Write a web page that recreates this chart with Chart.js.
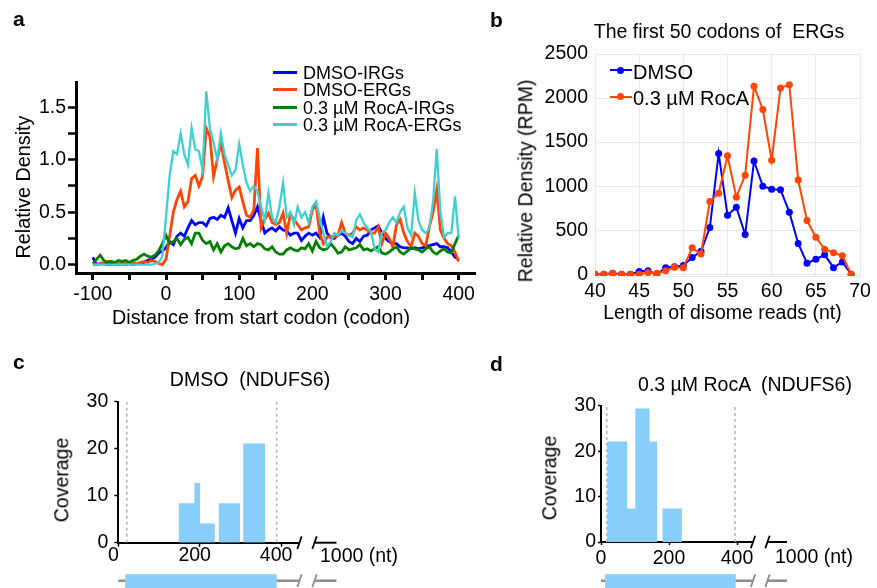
<!DOCTYPE html>
<html>
<head>
<meta charset="utf-8">
<script src="https://cdn.jsdelivr.net/npm/chart.js@4.4.1/dist/chart.umd.min.js"></script>
<style>
  html, body { margin: 0; padding: 0; background: #fff; }
  #fig { position: relative; width: 877px; height: 588px; overflow: hidden;
         font-family: 'Liberation Sans', Arial, sans-serif; color: #000; }
  canvas { position: absolute; }
  .t { position: absolute; white-space: pre; line-height: 1; transform: translate(-50%, -50%); }
  .l { position: absolute; white-space: pre; line-height: 1; transform: translate(0, -50%); }
  .rot { transform: translate(-50%, -50%) rotate(-90deg); }
  .pl { position: absolute; font-weight: bold; font-size: 21px; line-height: 1; }
  .sw { position: absolute; }
  .dot { position: absolute; border-radius: 50%; }
</style>
</head>
<body>
<div id="fig">
  <canvas id="ca" width="485" height="340" style="left:0px;top:0px"></canvas>
  <canvas id="cb" width="397" height="340" style="left:480px;top:0px"></canvas>
  <canvas id="cc" width="440" height="248" style="left:0px;top:340px"></canvas>
  <canvas id="cd" width="437" height="248" style="left:440px;top:340px"></canvas>

  <!-- panel a -->
  <div class="pl" style="left:13px;top:8px">a</div>
  <div class="t rot" style="left:23.5px;top:186.7px;font-size:19.8px">Relative Density</div>
  <div class="t" style="left:261px;top:318px;font-size:19.8px">Distance from start codon (codon)</div>
  <div class="sw" style="left:273px;top:70.5px;width:24px;height:3px;background:#0000ff"></div>
  <div class="sw" style="left:273px;top:87.8px;width:24px;height:3px;background:#ff4500"></div>
  <div class="sw" style="left:273px;top:105.5px;width:24px;height:3px;background:#008000"></div>
  <div class="sw" style="left:273px;top:122.8px;width:24px;height:3px;background:#40cfd0"></div>
  <div class="l" style="left:303px;top:72.5px;font-size:18px">DMSO-IRGs</div>
  <div class="l" style="left:303px;top:89.8px;font-size:18px">DMSO-ERGs</div>
  <div class="l" style="left:303px;top:107.5px;font-size:18px">0.3 µM RocA-IRGs</div>
  <div class="l" style="left:303px;top:124.8px;font-size:18px">0.3 µM RocA-ERGs</div>

  <!-- panel b -->
  <div class="pl" style="left:490px;top:9px">b</div>
  <div class="t" style="left:719px;top:32px;font-size:19.5px">The first 50 codons of  ERGs</div>
  <div class="t rot" style="left:526px;top:180.5px;font-size:19.5px">Relative Density (RPM)</div>
  <div class="t" style="left:722.5px;top:312.5px;font-size:19.5px">Length of disome reads (nt)</div>
  <div class="sw" style="left:610px;top:69px;width:22px;height:2px;background:#0000ff"></div>
  <div class="dot" style="left:616.5px;top:66.5px;width:7px;height:7px;background:#0000ff"></div>
  <div class="sw" style="left:610px;top:95.7px;width:22px;height:2px;background:#ff4500"></div>
  <div class="dot" style="left:616.5px;top:93.2px;width:7px;height:7px;background:#ff4500"></div>
  <div class="l" style="left:633px;top:71.7px;font-size:20px">DMSO</div>
  <div class="l" style="left:633px;top:98.3px;font-size:20px">0.3 µM RocA</div>

  <!-- panel c -->
  <div class="pl" style="left:13px;top:350.5px">c</div>
  <div class="t" style="left:250px;top:380px;font-size:19.5px">DMSO  (NDUFS6)</div>
  <div class="t rot" style="left:61.7px;top:480px;font-size:19.5px">Coverage</div>
  <div class="t" style="left:359px;top:556px;font-size:19.5px">1000 (nt)</div>

  <!-- panel d -->
  <div class="pl" style="left:490px;top:353px">d</div>
  <div class="t" style="left:745px;top:385px;font-size:19.5px">0.3 µM RocA  (NDUFS6)</div>
  <div class="t rot" style="left:550px;top:478px;font-size:19.5px">Coverage</div>
  <div class="t" style="left:814px;top:557px;font-size:19.5px">1000 (nt)</div>
</div>

<script>
// ---- panel a: metagene density, codon positions every 5 codons ----
const codons = Array.from({ length: 101 }, (_, i) => -100 + 5 * i);

const dmsoIRG = [
  0.07, 0.0, 0.01, 0.01, 0.0, 0.0, 0.01, 0.0, 0.01, 0.0,
  0.01, 0.0, 0.01, 0.01, 0.02, 0.04, 0.05, 0.07, 0.11, 0.13,
  0.16, 0.22, 0.19, 0.27, 0.3, 0.27, 0.35, 0.42, 0.38, 0.4,
  0.4, 0.37, 0.44, 0.45, 0.43, 0.47, 0.45, 0.54, 0.42, 0.3,
  0.44, 0.35, 0.42, 0.42, 0.47, 0.55, 0.42, 0.3, 0.33, 0.35,
  0.32, 0.36, 0.33, 0.32, 0.28, 0.3, 0.3, 0.23, 0.27, 0.3,
  0.28, 0.3, 0.26, 0.45, 0.3, 0.26, 0.25, 0.28, 0.3, 0.27,
  0.22, 0.2, 0.25, 0.22, 0.27, 0.28, 0.33, 0.35, 0.37, 0.3,
  0.25, 0.22, 0.2, 0.2, 0.17, 0.16, 0.16, 0.15, 0.16, 0.15,
  0.16, 0.17, 0.18, 0.19, 0.2, 0.17, 0.17, 0.16, 0.12, 0.07,
  0.05
];
const dmsoERG = [
  0.0, 0.0, 0.01, 0.02, 0.03, 0.03, 0.02, 0.01, 0.01, 0.02,
  0.01, 0.02, 0.01, 0.02, 0.03, 0.02, 0.04, 0.03, 0.01, 0.0,
  0.05, 0.27, 0.5, 0.62, 0.7, 0.55, 0.6, 0.82, 0.85, 0.75,
  0.84, 1.3, 1.22, 0.84, 1.0, 1.16, 0.97, 0.8, 0.64, 0.71,
  0.74, 0.6, 0.47, 0.45, 0.52, 1.11, 0.35, 0.43, 0.49, 0.4,
  0.38, 0.4, 0.49, 0.3, 0.48, 0.43, 0.38, 0.33, 0.35, 0.36,
  0.52, 0.58, 0.3, 0.2, 0.26, 0.27, 0.26, 0.28, 0.4, 0.3,
  0.28, 0.3, 0.36, 0.33, 0.35, 0.33, 0.3, 0.3, 0.36, 0.2,
  0.3, 0.25, 0.17, 0.38, 0.43, 0.3, 0.22, 0.17, 0.3, 0.27,
  0.2, 0.18, 0.36, 0.5, 0.71, 0.33, 0.25, 0.2, 0.18, 0.12,
  0.03
];
const rocaIRG = [
  0.01, 0.05, 0.09, 0.04, 0.02, 0.03, 0.02, 0.04, 0.03, 0.04,
  0.02, 0.04, 0.05, 0.08, 0.1, 0.08, 0.07, 0.09, 0.13, 0.2,
  0.28, 0.2, 0.22, 0.25, 0.19, 0.24, 0.26, 0.2, 0.3, 0.3,
  0.23, 0.2, 0.22, 0.14, 0.2, 0.12, 0.18, 0.2, 0.17, 0.15,
  0.16, 0.25, 0.18, 0.2, 0.17, 0.2, 0.19, 0.15, 0.14, 0.17,
  0.12, 0.1, 0.1, 0.14, 0.16, 0.14, 0.13, 0.16, 0.15, 0.2,
  0.13, 0.22, 0.16, 0.14, 0.15, 0.2, 0.16, 0.11, 0.12, 0.17,
  0.14, 0.15, 0.16, 0.19, 0.14, 0.15, 0.13, 0.15, 0.17, 0.11,
  0.1, 0.12, 0.15, 0.17, 0.12, 0.1, 0.13, 0.16, 0.15, 0.14,
  0.12, 0.15, 0.17, 0.12, 0.1, 0.13, 0.15, 0.12, 0.11, 0.2,
  0.28
];
const rocaERG = [
  0.0, 0.0, 0.0, 0.0, 0.0, 0.0, 0.0, 0.0, 0.0, 0.0,
  0.0, 0.0, 0.0, 0.0, 0.0, 0.0, 0.0, 0.01, 0.02, 0.08,
  0.45, 0.85, 1.08, 1.05, 1.25, 1.05, 0.95, 1.3, 1.1, 1.08,
  0.9, 1.65, 1.3, 1.16, 1.0, 1.25, 1.05, 0.95, 0.85, 0.9,
  1.15, 0.95, 0.78, 0.7, 0.75, 0.7, 0.55, 0.42, 0.68, 0.45,
  0.4, 0.55, 0.78, 0.45, 0.5, 0.38, 0.55, 0.45, 0.5, 0.4,
  0.55, 0.6, 0.45, 0.3, 0.17, 0.22, 0.3, 0.28, 0.32, 0.3,
  0.28, 0.26, 0.42, 0.48, 0.4, 0.35, 0.32, 0.15, 0.12, 0.3,
  0.33, 0.4, 0.45, 0.4, 0.5, 0.55, 0.35, 0.28, 0.68, 0.42,
  0.33, 0.3, 0.35, 0.6, 1.1, 0.5, 0.26, 0.3, 0.3, 0.65,
  0.25
];
const aXTicks = [-100, -50, 0, 50, 100, 150, 200, 250, 300, 350, 400];
const aYTicks = [0, 0.25, 0.5, 0.75, 1.0, 1.25, 1.5];

// ---- panel b: disome read length ----
const readLen = [40, 41, 42, 43, 44, 45, 46, 47, 48, 49, 50, 51, 52, 53, 54,
                 55, 56, 57, 58, 59, 60, 61, 62, 63, 64, 65, 66, 67, 68, 69];
const dmsoDisome = [0, 0, 10, 0, 0, 30, 40, 0, 75, 85, 100, 190, 260, 530, 1370,
                    670, 760, 450, 1285, 1000, 965, 960, 705, 350, 125, 170, 220, 75, 140, 0];
const rocaDisome = [0, 0, 10, 0, 0, 0, 20, 10, 40, 80, 75, 300, 230, 825, 920,
                    1345, 875, 1125, 2135, 1870, 1295, 2115, 2150, 1070, 610, 420, 285, 245, 210, 0];
const bXTicks = [40, 45, 50, 55, 60, 65, 70];
const bYTicks = [0, 500, 1000, 1500, 2000, 2500];

// ---- panels c, d: NDUFS6 coverage (bins in nt) ----
const dmsoBinStart = [148, 187, 201, 247, 307];
const dmsoBinEnd = [187, 201, 237, 299, 361];
const dmsoCoverage = [8.4, 12.7, 4.1, 8.4, 21.1];
const dmsoCds = [21, 389];
const dmsoGene = [17, 389];

const rocaBinStart = [18, 77, 101, 143, 181];
const rocaBinEnd = [77, 101, 143, 165, 238];
const rocaCoverage = [22.1, 7.4, 29.4, 22.1, 7.4];
const rocaCds = [17, 394];
const rocaGene = [12, 396];

const covXTicks = [0, 200, 400];
const covYTicks = [0, 10, 20, 30];

Chart.defaults.font.family = "'Liberation Sans', Arial, sans-serif";
Chart.defaults.color = '#000';

function pairs(xs, ys) {
  return xs.map((x, i) => ({ x: x, y: ys[i] }));
}
function setTicks(list) {
  return scale => { scale.ticks = list.map(v => ({ value: v })); };
}
function coverageSteps(starts, ends, cov) {
  const pts = [];
  starts.forEach((s, i) => {
    pts.push({ x: s, y: 0 }, { x: s, y: cov[i] }, { x: ends[i], y: cov[i] }, { x: ends[i], y: 0 });
  });
  return pts;
}

// panel a
new Chart(document.getElementById('ca'), {
  type: 'line',
  data: {
    datasets: [
      { label: 'DMSO-IRGs', data: pairs(codons, dmsoIRG), borderColor: '#0000ff', borderWidth: 2.8, order: 3 },
      { label: 'DMSO-ERGs', data: pairs(codons, dmsoERG), borderColor: '#ff4500', borderWidth: 2.8, order: 2 },
      { label: '0.3 µM RocA-IRGs', data: pairs(codons, rocaIRG), borderColor: '#008000', borderWidth: 2.8, order: 1 },
      { label: '0.3 µM RocA-ERGs', data: pairs(codons, rocaERG), borderColor: '#40cfd0', borderWidth: 2.3, order: 0 }
    ]
  },
  options: {
    responsive: false, animation: false, devicePixelRatio: 1,
    layout: { padding: { top: 82, right: 10, left: 0, bottom: 0 } },
    plugins: { legend: { display: false }, tooltip: { enabled: false } },
    elements: { point: { radius: 0 }, line: { tension: 0 } },
    scales: {
      x: {
        type: 'linear', min: -123, max: 422.3,
        afterBuildTicks: setTicks(aXTicks),
        afterFit: s => { s.height = 340 - 273; },
        ticks: { autoSkip: false, maxRotation: 0, padding: 5, font: { size: 19.5, lineHeight: 1 },
                 callback: v => (v % 100 === 0 ? String(v) : '') },
        grid: { drawOnChartArea: false, tickLength: 7, tickWidth: 3, tickColor: '#000' },
        border: { color: '#000', width: 3 }
      },
      y: {
        min: -0.08, max: 1.74,
        afterBuildTicks: setTicks(aYTicks),
        afterFit: s => { s.width = 76; },
        ticks: { padding: 2, font: { size: 19.5, lineHeight: 1 },
                 callback: v => (Math.abs(v * 2 - Math.round(v * 2)) < 1e-9 ? v.toFixed(1) : '') },
        grid: { drawOnChartArea: false, tickLength: 8, tickWidth: 2.5, tickColor: '#000' },
        border: { color: '#000', width: 3 }
      }
    }
  }
});

// panel b
new Chart(document.getElementById('cb'), {
  type: 'line',
  data: {
    datasets: [
      { label: 'DMSO', data: pairs(readLen, dmsoDisome), borderColor: '#0000ff', backgroundColor: '#0000ff',
        borderWidth: 2, pointRadius: 3.5, pointBorderWidth: 0, order: 1 },
      { label: '0.3 µM RocA', data: pairs(readLen, rocaDisome), borderColor: '#ff4500', backgroundColor: '#ff4500',
        borderWidth: 2, pointRadius: 3.5, pointBorderWidth: 0, order: 0 }
    ]
  },
  options: {
    responsive: false, animation: false, devicePixelRatio: 1,
    layout: { padding: { top: 54, right: 17, left: 0, bottom: 0 } },
    plugins: { legend: { display: false }, tooltip: { enabled: false } },
    elements: { line: { tension: 0 } },
    scales: {
      x: {
        type: 'linear', min: 40, max: 70,
        afterBuildTicks: setTicks(bXTicks),
        afterFit: s => { s.height = 340 - 276; },
        ticks: { autoSkip: false, maxRotation: 0, padding: 6, font: { size: 19.5, lineHeight: 1 },
                 callback: v => String(v) },
        grid: { color: '#e8e8e8', drawTicks: false },
        border: { color: '#e8e8e8', width: 1 }
      },
      y: {
        min: -20, max: 2500,
        afterBuildTicks: setTicks(bYTicks),
        afterFit: s => { s.width = 115; },
        ticks: { padding: 7, font: { size: 19.5, lineHeight: 1 }, callback: v => String(v) },
        grid: { color: '#e8e8e8', drawTicks: false },
        border: { color: '#e8e8e8', width: 1 }
      }
    }
  }
});

// axis break on the x axis and the gene model under it
const geneTrack = {
  id: 'geneTrack',
  afterDraw(chart, args, opts) {
    const { ctx, chartArea: area, scales: { x } } = chart;
    const r = area.right;
    const slash = (cx, cy) => {
      ctx.beginPath();
      ctx.moveTo(cx - 2.2, cy + 6.3);
      ctx.lineTo(cx + 2.2, cy - 6.3);
      ctx.stroke();
    };
    const seg = (x0, x1, y) => {
      ctx.beginPath();
      ctx.moveTo(x0, y);
      ctx.lineTo(x1, y);
      ctx.stroke();
    };
    ctx.save();
    ctx.strokeStyle = '#000';
    ctx.lineWidth = 1.8;
    slash(r + opts.gap1, area.bottom);
    slash(r + opts.gap2, area.bottom);
    ctx.lineWidth = 2;
    seg(r + opts.gap2, r + opts.tail, area.bottom);

    const ty = opts.trackY;
    ctx.strokeStyle = '#8c8c8c';
    ctx.lineWidth = 2.5;
    seg(area.left, r, ty);
    ctx.lineWidth = 1.8;
    slash(r + opts.gap1, ty);
    slash(r + opts.gap2, ty);
    ctx.lineWidth = 2.5;
    seg(r + opts.gap2, r + opts.tail, ty);

    const g0 = x.getPixelForValue(opts.gene[0]);
    const g1 = x.getPixelForValue(opts.gene[1]);
    ctx.fillStyle = '#87cefa';
    ctx.fillRect(g0, ty - 6.5, g1 - g0, chart.height - ty + 6.5);
    ctx.restore();
  }
};

function coverageChart(id, starts, ends, cov, cds, gene, box) {
  new Chart(document.getElementById(id), {
    type: 'line',
    data: {
      datasets: [
        { data: [{ x: cds[0], y: 0 }, { x: cds[0], y: 30 }], borderColor: '#b4b4b4', borderWidth: 1.5,
          borderDash: [3, 3], pointRadius: 0, fill: false, order: 0 },
        { data: [{ x: cds[1], y: 0 }, { x: cds[1], y: 30 }], borderColor: '#b4b4b4', borderWidth: 1.5,
          borderDash: [3, 3], pointRadius: 0, fill: false, order: 0 },
        { data: coverageSteps(starts, ends, cov), borderColor: 'rgba(0,0,0,0)', borderWidth: 1,
          backgroundColor: '#87cefa', pointRadius: 0, fill: 'origin', order: 1 }
      ]
    },
    plugins: [geneTrack],
    options: {
      responsive: false, animation: false, devicePixelRatio: 1,
      layout: { padding: { top: box.top, right: box.right, left: 0, bottom: 0 } },
      plugins: { legend: { display: false }, tooltip: { enabled: false },
                 geneTrack: { gene: gene, trackY: box.trackY, gap1: box.gap1, gap2: box.gap2, tail: box.tail } },
      elements: { line: { tension: 0 } },
      scales: {
        x: {
          type: 'linear', min: 0, max: box.xMax,
          afterBuildTicks: setTicks(covXTicks),
          afterFit: s => { s.height = 248 - box.bottom; },
          ticks: { autoSkip: false, maxRotation: 0, padding: box.xPad, labelOffset: box.labelOffset,
                   font: { size: 19.5, lineHeight: 1 }, callback: v => String(v) },
          grid: { drawOnChartArea: false, tickLength: box.tick, tickWidth: 1.5, tickColor: '#000' },
          border: { color: '#000', width: 2 }
        },
        y: {
          min: 0, max: 30,
          afterBuildTicks: setTicks(covYTicks),
          afterFit: s => { s.width = box.left; },
          ticks: { padding: box.yPad, font: { size: 19.5, lineHeight: 1 }, callback: v => String(v) },
          grid: { drawOnChartArea: false, tickLength: box.tick, tickWidth: 1.5, tickColor: '#000' },
          border: { color: '#000', width: 2 }
        }
      }
    }
  });
}

coverageChart('cc', dmsoBinStart, dmsoBinEnd, dmsoCoverage, dmsoCds, dmsoGene,
  { left: 118.3, top: 61.7, right: 141, bottom: 202.7, xMax: 444, trackY: 240.7,
    gap1: 0.5, gap2: 15.5, tail: 37.5, xPad: -1, yPad: 6, tick: 4, labelOffset: -5 });
coverageChart('cd', rocaBinStart, rocaBinEnd, rocaCoverage, rocaCds, rocaGene,
  { left: 161, top: 65.7, right: 124, bottom: 202, xMax: 447, trackY: 240.7,
    gap1: 0, gap2: 14.5, tail: 34, xPad: 4, yPad: 2, tick: 3, labelOffset: 0 });
</script>
</body>
</html>
